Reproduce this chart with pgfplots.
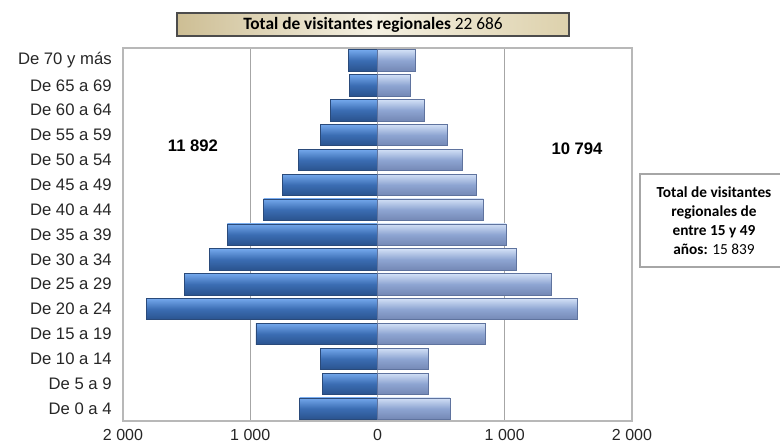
\documentclass[border=0pt]{standalone}
\usepackage{pgfplots}
\pgfplotsset{compat=1.18}
\usepackage{pgfplotstable}
\usepackage{fontspec}
\setmainfont{Liberation Sans}
\newfontfamily\calfont{Carlito}
\definecolor{lmain}{HTML}{3B6DB3}
\definecolor{ltop}{HTML}{74A8EC}
\definecolor{lbot}{HTML}{2A538E}
\definecolor{ledge}{HTML}{2A4A7A}
\definecolor{rmain}{HTML}{8EA5D2}
\definecolor{rtop}{HTML}{D2E0F6}
\definecolor{rbot}{HTML}{7488B5}
\definecolor{redge}{HTML}{5F739E}
\definecolor{gridc}{HTML}{A6A6A6}
\definecolor{beigeA}{HTML}{CDBE94}
\definecolor{beigeB}{HTML}{F4F0E2}
\definecolor{beigeC}{HTML}{DDD1AC}

\pgfplotstableread{
y left right
0 -612 569
1 -431 396
2 -449 396
3 -955 843
4 -1819 1572
5 -1517 1362
6 -1320 1092
7 -1179 1008
8 -895 832
9 -750 780
10 -620 667
11 -449 549
12 -370 365
13 -220 260
14 -231 300
}\data

\begin{document}
\begin{tikzpicture}[x=0.75pt,y=0.75pt]
\path[use as bounding box] (0,0) rectangle (780,448);
\begin{axis}[
  at={(92.25pt,20.25pt)}, anchor=south west,
  scale only axis, width=381.75pt, height=279.75pt,
  xmin=-2000, xmax=2000, ymin=-0.5, ymax=14.5,
  xbar, bar width=16pt, bar shift=0pt,
  xtick={-2000,-1000,0,1000,2000},
  xticklabels={2 000,1 000,0,1 000,2 000},
  ytick={0,...,14},
  yticklabels={De 0 a 4,De 5 a 9,De 10 a 14,De 15 a 19,De 20 a 24,De 25 a 29,De 30 a 34,De 35 a 39,De 40 a 44,De 45 a 49,De 50 a 54,De 55 a 59,De 60 a 64,De 65 a 69,De 70 y más},
  major tick length=0pt,
  xmajorgrids, grid style={draw=gridc, line width=0.8pt},
  axis line style={draw=gridc!80, line width=0.8pt},
  tick label style={font=\fontsize{12}{14}\selectfont, text=black!85},
  yticklabel style={font=\fontsize{12.5}{14}\selectfont, xshift=-5pt},
  xticklabel style={yshift=-3pt},
]
\pgfplotsinvokeforeach{0,...,14}{
\addplot[xbar, bar shift=0pt, draw=ledge, line width=0.4pt, top color=ltop, bottom color=lbot, middle color=lmain, x filter/.expression={\coordindex==#1 ? x : nan}] table[x=left, y=y] {\data};
\addplot[xbar, bar shift=0pt, draw=redge, line width=0.4pt, top color=rtop, bottom color=rbot, middle color=rmain, x filter/.expression={\coordindex==#1 ? x : nan}] table[x=right, y=y] {\data};
}
\end{axis}
% title box
\draw[draw=black!70, line width=1.2pt, left color=beigeA, right color=beigeC, middle color=beigeB] (177,412) rectangle (569,435);
\node[font=\calfont\fontsize{13}{15}\selectfont] at (373,423.5) {\textbf{Total de visitantes regionales} 22 686};
% totals
\node[font=\bfseries\fontsize{12.5}{14}\selectfont] at (193,302) {11 892};
\node[font=\bfseries\fontsize{12.5}{14}\selectfont] at (577,299) {10 794};
% right box
\draw[draw=gridc, line width=0.8pt, fill=white] (640,181) rectangle (790,274);
\node[font=\calfont\fontsize{11.5}{14.3}\selectfont, align=center, anchor=center] at (714,227.5) {\textbf{Total de visitantes}\\\textbf{regionales de}\\\textbf{entre 15 y 49}\\\textbf{años:} 15 839};
\end{tikzpicture}
\end{document}
